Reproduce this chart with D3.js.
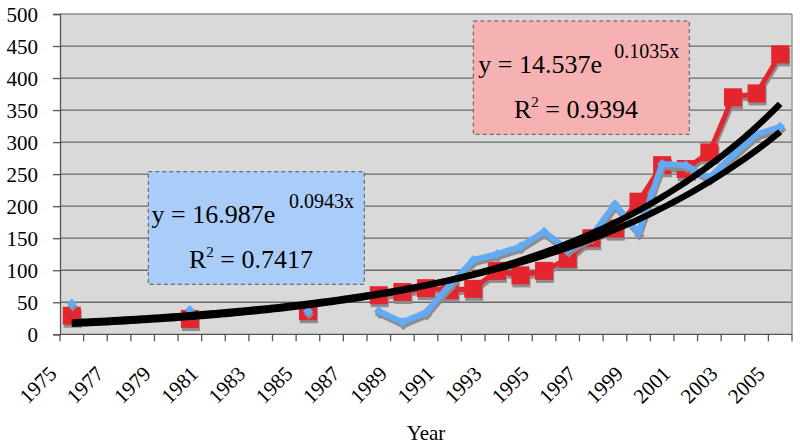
<!DOCTYPE html>
<html>
<head>
<meta charset="utf-8">
<script src="https://cdn.jsdelivr.net/npm/d3@7"></script>
<style>
  html, body { margin: 0; padding: 0; background: #ffffff; }
  svg { display: block; font-family: "Liberation Serif", "Times New Roman", serif; }
</style>
</head>
<body>
<svg id="chart" width="800" height="445"></svg>
<script>
// ---- data ----
const years = d3.range(1975, 2006);
const yTicks = [0, 50, 100, 150, 200, 250, 300, 350, 400, 450, 500];
const xLabelYears = years.filter((yr, i) => i % 2 === 0);

// red squares series (null = no value for that year)
const redValues = [29, null, null, null, null, 24, null, null, null, null, 36, null, null,
  61, 66, 72, 69, 71, 99, 92, 99, 118, 150, 165, 207, 264, 258, 284, 370, 376, 437];
// blue diamonds series
const blueValues = [48, null, null, null, null, 38, null, null, null, null, 36, null, null,
  36, 19, 34, 77, 116, 125, 137, 160, 132, 153, 203, 159, 266, 264, 244, 280, 312, 324];

// exponential trend lines from the equations shown on the chart: y = a * e^(b x), x = 1..31
const redTrend = { a: 14.537, b: 0.1035 };
const blueTrend = { a: 16.987, b: 0.0943 };

// ---- layout ----
const svg = d3.select("#chart");
const pL = 60, pR = 792, pT = 14, pB = 334.3;

const x = d3.scaleBand().domain(years).range([pL, pR]).padding(0);
const y = d3.scaleLinear().domain([0, 500]).range([pB, pT]);
const cx = yr => x(yr) + x.bandwidth() / 2;
const xIdx = d3.scaleLinear().domain([1, years.length]).range([cx(years[0]), cx(years[years.length - 1])]);

// plot background
svg.append("rect").attr("x", pL).attr("y", pT)
  .attr("width", pR - pL).attr("height", pB - pT)
  .attr("fill", "#d9d9d9");

// gridlines
svg.append("g").selectAll("line").data(yTicks.filter(t => t > 0)).join("line")
  .attr("x1", pL).attr("x2", pR)
  .attr("y1", d => y(d)).attr("y2", d => y(d))
  .attr("stroke", d => d === 500 ? "#8c8c8c" : "#6a6a6a").attr("stroke-width", 1.3);

// right border
svg.append("line").attr("x1", pR).attr("x2", pR).attr("y1", pT).attr("y2", pB)
  .attr("stroke", "#9a9a9a").attr("stroke-width", 1.5);

// y axis
const yAxis = d3.axisLeft(y).tickValues(yTicks).tickSize(7).tickPadding(0).tickFormat(d3.format("d"));
const gy = svg.append("g").attr("transform", `translate(${pL},0)`).call(yAxis)
  .attr("font-family", "Liberation Serif");
gy.select(".domain").attr("stroke", "#555").attr("stroke-width", 1.3);
gy.selectAll(".tick line").attr("stroke", "#555").attr("stroke-width", 1.3);
gy.selectAll(".tick text").attr("x", -22).attr("dy", "0.34em")
  .attr("font-size", 21).attr("fill", "#000");

// x axis: ticks at category boundaries
const boundaries = years.map(yr => x(yr)).concat([pR]);
svg.append("line").attr("x1", pL).attr("x2", pR).attr("y1", pB).attr("y2", pB)
  .attr("stroke", "#555").attr("stroke-width", 1.3);
svg.append("g").selectAll("line").data(boundaries).join("line")
  .attr("x1", d => d).attr("x2", d => d).attr("y1", pB).attr("y2", pB + 7)
  .attr("stroke", "#555").attr("stroke-width", 1.3);
svg.append("g").selectAll("text").data(xLabelYears).join("text")
  .attr("transform", d => `translate(${cx(d) - 14},375) rotate(-45)`)
  .attr("text-anchor", "end").attr("font-size", 21).attr("fill", "#000")
  .text(d => d);

svg.append("text").attr("x", (pL + pR) / 2).attr("y", 440)
  .attr("text-anchor", "middle").attr("font-size", 21).text("Year");

// ---- series ----
const redData = years.map((yr, i) => ({ yr, v: redValues[i] }));
const blueData = years.map((yr, i) => ({ yr, v: blueValues[i] }));
const line = d3.line().defined(d => d.v != null).x(d => cx(d.yr)).y(d => y(d.v));

function drawSeries(data, color, width, marker, dx, dy) {
  const g = svg.append("g");
  const sh = g.append("g").attr("transform", `translate(${dx},${dy})`);
  sh.append("path").attr("d", line(data)).attr("fill", "none")
    .attr("stroke", "#8c8c8c").attr("stroke-width", width).attr("stroke-linejoin", "round");
  const pts = data.filter(d => d.v != null);
  marker(sh, pts, "#8c8c8c");
  g.append("path").attr("d", line(data)).attr("fill", "none")
    .attr("stroke", color).attr("stroke-width", width).attr("stroke-linejoin", "round");
  marker(g, pts, color);
}

const squareMarker = (g, pts, color) => {
  g.selectAll(null).data(pts).join("rect")
    .attr("x", d => cx(d.yr) - 9).attr("y", d => y(d.v) - 9)
    .attr("width", 18).attr("height", 18).attr("fill", color);
};
const diamondMarker = (g, pts, color) => {
  const sym = d3.symbol().type(d3.symbolDiamond2).size(64);
  g.selectAll(null).data(pts).join("path")
    .attr("transform", d => `translate(${cx(d.yr)},${y(d.v)})`)
    .attr("d", sym).attr("fill", color);
};

drawSeries(redData, "#e3262d", 5, squareMarker, 1, 3);
drawSeries(blueData, "#62aaf4", 6, diamondMarker, 1, 3);

// ---- trend lines ----
const tSamples = d3.range(1, years.length + 0.001, 0.25);
const trendLine = d3.line().x(t => xIdx(t)).curve(d3.curveMonotoneX);
[redTrend, blueTrend].forEach(tr => {
  svg.append("path")
    .attr("d", trendLine.y(t => y(tr.a * Math.exp(tr.b * t)))(tSamples))
    .attr("fill", "none").attr("stroke", "#000").attr("stroke-width", 6.3)
    .attr("stroke-linecap", "butt");
});

// ---- trendline labels ----
function eqBox(bx, by, bw, bh, fill, coef, expo, r2, eqX, eqY, expX, expY, rX, rY) {
  svg.append("rect").attr("x", bx).attr("y", by).attr("width", bw).attr("height", bh)
    .attr("fill", fill).attr("stroke", "#555").attr("stroke-width", 1)
    .attr("stroke-dasharray", "4,3");
  svg.append("text").attr("x", eqX).attr("y", eqY).attr("font-size", 26).text(`y = ${coef}e`);
  svg.append("text").attr("x", expX).attr("y", expY).attr("font-size", 20).text(`${expo}x`);
  const t = svg.append("text").attr("x", rX).attr("y", rY).attr("font-size", 26);
  t.append("tspan").text("R");
  t.append("tspan").attr("font-size", 15).attr("dy", -11).text("2");
  t.append("tspan").attr("dy", 11).text(` = ${r2}`);
}
eqBox(148.3, 171.7, 216, 112.6, "#a9cdf8", "16.987", "0.0943", "0.7417",
  151.5, 223, 289, 208, 189, 267.7);
eqBox(473.3, 21, 216, 113.3, "#f6b2b2", "14.537", "0.1035", "0.9394",
  478.3, 73.3, 614.3, 58.3, 514, 118.3);
</script>
</body>
</html>
